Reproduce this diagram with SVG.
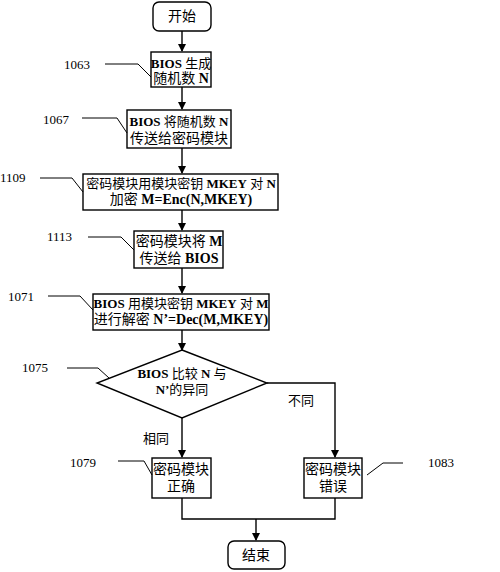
<svg xmlns="http://www.w3.org/2000/svg" width="500" height="572" viewBox="0 0 500 572">
<style>
.box{fill:#fff;stroke:#000;stroke-width:1.4}
.t{font-family:"Liberation Serif","Noto Sans CJK SC",serif;font-size:14px;fill:#000;text-anchor:middle}
.s{font-size:13px}
.b{font-weight:bold}
.lb{font-family:"Liberation Serif","Noto Sans CJK SC",serif;font-size:13px;fill:#000}
.c{fill:none;stroke:#000;stroke-width:1.4}
.ld{fill:none;stroke:#000;stroke-width:1}
</style>
<defs>
<marker id="ah" markerWidth="8" markerHeight="8" refX="7" refY="4" orient="auto" markerUnits="userSpaceOnUse">
<path d="M0,0 L8,4 L0,8 Z" fill="#000"/>
</marker>
</defs>
<rect width="500" height="572" fill="#fff"/>
<g id="connectors">
<path class="c" d="M182,31 V51" marker-end="url(#ah)"/>
<path class="c" d="M182,87 V109" marker-end="url(#ah)"/>
<path class="c" d="M182,148 V173" marker-end="url(#ah)"/>
<path class="c" d="M182,210 V230" marker-end="url(#ah)"/>
<path class="c" d="M182,268 V293" marker-end="url(#ah)"/>
<path class="c" d="M182,330 V350" marker-end="url(#ah)"/>
<path class="c" d="M182,418 V457" marker-end="url(#ah)"/>
<path class="c" d="M267,383 H335 V457" marker-end="url(#ah)"/>
<path class="c" d="M182,498 V519 H335 V498"/>
<path class="c" d="M256,519 V540" marker-end="url(#ah)"/>
<text class="lb" x="288" y="405">不同</text>
<text class="lb" x="143" y="443">相同</text>
</g>
<g id="start">
<rect class="box" x="153" y="2" width="58" height="29" rx="6"/>
<text class="t" x="182" y="21">开始</text>
</g>
<g id="n1063">
<rect class="box" x="151" y="52" width="60" height="35"/>
<text class="t s" x="181" y="68"><tspan class="b">BIOS</tspan> 生成</text>
<text class="t" x="181" y="83">随机数 <tspan class="b">N</tspan></text>
<text class="lb" x="64" y="69">1063</text>
<path class="ld" d="M105,64 H138 L151,77"/>
</g>
<g id="n1067">
<rect class="box" x="127" y="110" width="104" height="38"/>
<text class="t s" x="179" y="126"><tspan class="b">BIOS</tspan> 将随机数 <tspan class="b">N</tspan></text>
<text class="t" x="179" y="143">传送给密码模块</text>
<text class="lb" x="43" y="124">1067</text>
<path class="ld" d="M82,118 H117 L127,133"/>
</g>
<g id="n1109">
<rect class="box" x="83" y="174" width="195" height="36"/>
<text class="t s" x="181" y="188">密码模块用模块密钥 <tspan class="b">MKEY</tspan> 对 <tspan class="b">N</tspan></text>
<text class="t" x="181" y="204">加密 <tspan class="b">M=Enc(N,MKEY)</tspan></text>
<text class="lb" x="0" y="182">1109</text>
<path class="ld" d="M40,178 H72 L83,192"/>
</g>
<g id="n1113">
<rect class="box" x="134" y="231" width="89" height="37"/>
<text class="t" x="179" y="246">密码模块将 <tspan class="b">M</tspan></text>
<text class="t" x="179" y="263">传送给 <tspan class="b">BIOS</tspan></text>
<text class="lb" x="47" y="241">1113</text>
<path class="ld" d="M88,237 H121 L134,250"/>
</g>
<g id="n1071">
<rect class="box" x="93" y="294" width="176" height="36"/>
<text class="t s" x="181" y="308"><tspan class="b">BIOS</tspan> 用模块密钥 <tspan class="b">MKEY</tspan> 对 <tspan class="b">M</tspan></text>
<text class="t" x="181" y="324">进行解密 <tspan class="b">N’=Dec(M,MKEY)</tspan></text>
<text class="lb" x="8" y="301">1071</text>
<path class="ld" d="M48,296 H80 L93,310"/>
</g>
<g id="n1075">
<polygon class="box" points="182,350 267,383 182,418 97,383"/>
<text class="t s" x="182" y="378"><tspan class="b">BIOS</tspan> 比较 <tspan class="b">N</tspan> 与</text>
<text class="t s" x="182" y="394"><tspan class="b">N’</tspan>的异同</text>
<text class="lb" x="22" y="372">1075</text>
<path class="ld" d="M67,368 H98 L109,378"/>
</g>
<g id="n1079">
<rect class="box" x="152" y="458" width="59" height="40"/>
<text class="t" x="181" y="474">密码模块</text>
<text class="t" x="181" y="491">正确</text>
<text class="lb" x="70" y="467">1079</text>
<path class="ld" d="M118,461 H144 L152,475"/>
</g>
<g id="n1083">
<rect class="box" x="304" y="458" width="58" height="40"/>
<text class="t" x="333" y="474">密码模块</text>
<text class="t" x="333" y="491">错误</text>
<text class="lb" x="428" y="467">1083</text>
<path class="ld" d="M367,475 L383,463 H403"/>
</g>
<g id="end">
<rect class="box" x="228" y="541" width="57" height="28" rx="6"/>
<text class="t" x="256" y="560">结束</text>
</g>
</svg>
